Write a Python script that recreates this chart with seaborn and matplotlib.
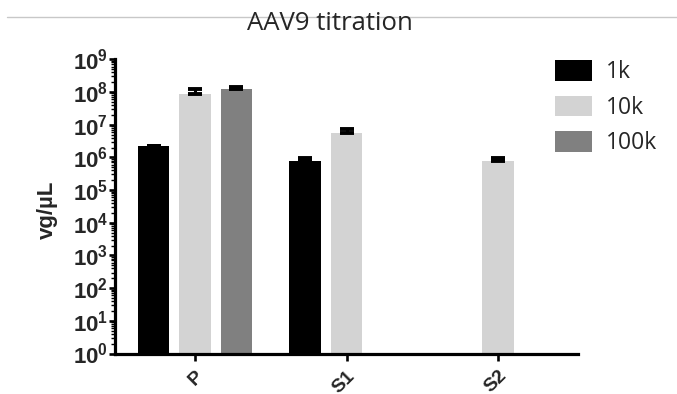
import numpy as np
import pandas as pd
import matplotlib
matplotlib.use("Agg")
import matplotlib.pyplot as plt
from matplotlib.ticker import LogLocator, FuncFormatter, NullFormatter
from matplotlib.lines import Line2D
import seaborn as sns

# ---- data ----
groups = ["P", "S1", "S2"]
dilutions = ["1k", "10k", "100k"]
vals_1k = [2.25e6, 7.9e5, np.nan]
vals_10k = [8.9e7, 5.6e6, 7.7e5]
vals_100k = [1.21e8, np.nan, np.nan]
err_1k = [0.0, 1.6e5, np.nan]
err_10k = [3.8e7, 1.7e6, 1.6e5]
err_100k = [1.8e7, np.nan, np.nan]
colors = ["#000000", "#d3d3d3", "#808080"]
title = "AAV9 titration"
ylabel = "vg/µL"

vals = {"1k": vals_1k, "10k": vals_10k, "100k": vals_100k}
errs = {"1k": err_1k, "10k": err_10k, "100k": err_100k}
rows = []
for d in dilutions:
    for g, v, e in zip(groups, vals[d], errs[d]):
        if not np.isnan(v):
            rows.append({"group": g, "dilution": d, "vg": v, "err": e})
df = pd.DataFrame(rows)

sns.set_theme(style="ticks")
plt.rcParams["font.family"] = ["Liberation Sans", "DejaVu Sans"]
plt.rcParams["mathtext.fontset"] = "custom"
plt.rcParams["mathtext.rm"] = "Liberation Sans:bold"
plt.rcParams["mathtext.bf"] = "Liberation Sans:bold"
plt.rcParams["mathtext.it"] = "Liberation Sans:bold"

W, H = 677, 394
fig = plt.figure(figsize=(W / 100, H / 100), dpi=100)
ax_l, ax_r, ax_t, ax_b = 115, 578, 59.3, 353.5
ax = fig.add_axes([ax_l / W, 1 - ax_b / H, (ax_r - ax_l) / W, (ax_b - ax_t) / H])
ax.set_yscale("log")

sns.barplot(data=df, x="group", y="vg", hue="dilution", order=groups,
            hue_order=dilutions, palette=colors, errorbar=None,
            width=0.82, gap=0.24, saturation=1, ax=ax, linewidth=0)

# error bars (upper only), positioned on the drawn bars
for d, cont in zip(dilutions, ax.containers):
    for patch in cont.patches:
        h = patch.get_height()
        if not np.isfinite(h) or h <= 0:
            continue
        xc = patch.get_x() + patch.get_width() / 2
        gi = int(round(xc))
        e = errs[d][gi]
        if np.isnan(e):
            continue
        top = patch.get_y() + h
        ax.errorbar([xc], [top], yerr=[[0], [e]], fmt="none", ecolor="black",
                    elinewidth=2.2, capsize=4.8, capthick=2.8, zorder=3)

ax.set_ylim(1, 1e9)
ax.set_xlim(-0.528, 2.528)
ax.yaxis.set_major_locator(LogLocator(base=10, numticks=20))
ax.yaxis.set_minor_locator(LogLocator(base=10, subs=np.arange(2, 10), numticks=100))
ax.yaxis.set_minor_formatter(NullFormatter())
ax.yaxis.set_major_formatter(FuncFormatter(lambda v, p: r"$\mathbf{10^{%d}}$" % int(round(np.log10(v)))))

for s in ["top", "right"]:
    ax.spines[s].set_visible(False)
for s in ["left", "bottom"]:
    ax.spines[s].set_linewidth(2.3)
    ax.spines[s].set_color("black")

ax.tick_params(axis="y", which="major", length=4.5, width=1.9, labelsize=16, pad=0.5, color="black")
ax.tick_params(axis="y", which="minor", length=2.8, width=1.0, color="black")
ax.tick_params(axis="x", which="major", length=5, width=1.9, labelsize=14, pad=5, color="black")
for lab in ax.get_xticklabels():
    lab.set_rotation(45)
    lab.set_ha("right")
    lab.set_rotation_mode("anchor")
    lab.set_fontweight("bold")

ax.set_xlabel("")
ax.set_ylabel(ylabel, fontsize=16, fontweight="bold")
ax.yaxis.set_label_coords(-0.124, 0.49)

handles, labels = ax.get_legend_handles_labels()
ax.legend(handles, labels, loc="upper left", bbox_to_anchor=(555 / W, 1 - 60 / H),
          bbox_transform=fig.transFigure, frameon=False, borderpad=0, borderaxespad=0,
          handlelength=1.62, handleheight=1.0, handletextpad=0.62, labelspacing=0.5,
          prop={"family": "Open Sans", "size": 16.5})

fig.text((247 + 412) / 2 / W, 1 - 24 / H, title, ha="center", va="center",
         fontsize=18.5, family="Open Sans")
fig.add_artist(Line2D([7 / W, 1], [1 - 17 / H, 1 - 17 / H], transform=fig.transFigure,
                      color="#c8c8c8", linewidth=1, zorder=0))

fig.savefig("out.png", dpi=100)
